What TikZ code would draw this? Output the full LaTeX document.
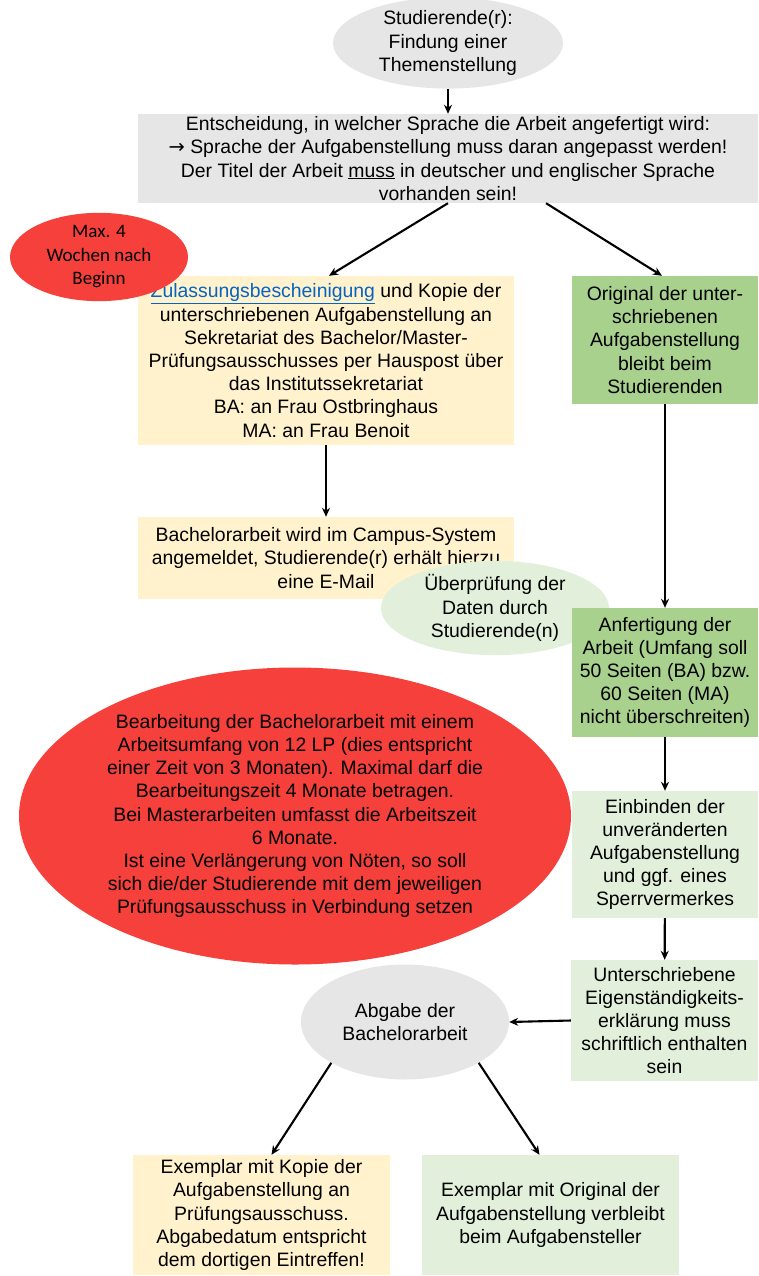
\documentclass[tikz,border=0pt]{standalone}
\usepackage{fontspec}
\setmainfont{Liberation Sans}
\newfontfamily\calib{Carlito}
\newfontfamily\dejavu{DejaVu Sans}
\usetikzlibrary{shapes.geometric,arrows.meta}
\definecolor{graybg}{HTML}{E7E6E6}
\definecolor{yellowbg}{HTML}{FFF2CC}
\definecolor{greenD}{HTML}{A9D18E}
\definecolor{greenL}{HTML}{E2EFDA}
\definecolor{redc}{HTML}{F5403B}
\definecolor{linkblue}{HTML}{0563C1}
\tikzset{
  txt/.style={align=center, inner sep=0pt, font=\fontsize{19.4}{23.2}\selectfont},
  rbox/.style={txt, rectangle},
  ell/.style={txt, ellipse},
  arr/.style={-{Stealth[length=9pt,width=8pt]}, line width=2.1pt, black},
}
\begin{document}
\begin{tikzpicture}[x=1pt,y=-1pt]
\useasboundingbox (0,0) rectangle (758,1276);
\node[ell, fill=graybg, minimum width=230, minimum height=78] (top) at (448,43) {Studierende(r):\\Findung einer\\Themenstellung};
\node[rbox, fill=graybg, minimum width=620, minimum height=89] (lang) at (448,158.5) {Entscheidung, in welcher Sprache die Arbeit angefertigt wird:\\{\dejavu →} Sprache der Aufgabenstellung muss daran angepasst werden!\\Der Titel der Arbeit \underline{muss} in deutscher und englischer Sprache\\vorhanden sein!};
\node[rbox, fill=yellowbg, minimum width=376, minimum height=169] (zul) at (326,360.5) {\textcolor{linkblue}{\underline{Zulassungsbescheinigung}} und Kopie der\\unterschriebenen Aufgabenstellung an\\Sekretariat des Bachelor/Master-\\Prüfungsausschusses per Hauspost über\\das Institutssekretariat\\BA: an Frau Ostbringhaus\\MA: an Frau Benoit};
\node[ell, fill=redc, minimum width=178, minimum height=66, font=\calib\fontsize{19}{23.5}\selectfont] (max) at (99,257) {Max. 4\\Wochen nach\\Beginn};
\node[rbox, fill=greenD, minimum width=186, minimum height=128] (orig) at (665,340) {Original der unter-\\schriebenen\\Aufgabenstellung\\bleibt beim\\Studierenden};
\node[rbox, fill=yellowbg, minimum width=376, minimum height=82] (camp) at (326,558) {Bachelorarbeit wird im Campus-System\\angemeldet, Studierende(r) erhält hierzu\\eine E-Mail};
\node[ell, fill=greenL, minimum width=228, minimum height=80] (ueb) at (495,608) {Überprüfung der\\Daten durch\\Studierende(n)};
\node[rbox, fill=greenD, minimum width=186, minimum height=129] (anf) at (665,672.5) {Anfertigung der\\Arbeit (Umfang soll\\50 Seiten (BA) bzw.\\60 Seiten (MA)\\nicht überschreiten)};
\node[ell, fill=redc, minimum width=552, minimum height=297] (big) at (295,816) {Bearbeitung der Bachelorarbeit mit einem\\Arbeitsumfang von 12 LP (dies entspricht\\einer Zeit von 3 Monaten). Maximal darf die\\Bearbeitungszeit 4 Monate betragen.\\Bei Masterarbeiten umfasst die Arbeitszeit\\6 Monate.\\Ist eine Verlängerung von Nöten, so soll\\sich die/der Studierende mit dem jeweiligen\\Prüfungsausschuss in Verbindung setzen};
\node[rbox, fill=greenL, minimum width=186, minimum height=127] (einb) at (665,854.5) {Einbinden der\\unveränderten\\Aufgabenstellung\\und ggf. eines\\Sperrvermerkes};
\node[rbox, fill=greenL, minimum width=187, minimum height=121] (unt) at (664.5,1020.5) {Unterschriebene\\Eigenständigkeits-\\erklärung muss\\schriftlich enthalten\\sein};
\node[ell, fill=graybg, minimum width=208, minimum height=115] (abg) at (405,1022) {Abgabe der\\Bachelorarbeit};
\node[rbox, fill=yellowbg, minimum width=257, minimum height=120] (exk) at (261.5,1215) {Exemplar mit Kopie der\\Aufgabenstellung an\\Prüfungsausschuss.\\Abgabedatum entspricht\\dem dortigen Eintreffen!};
\node[rbox, fill=greenL, minimum width=257, minimum height=120] (exo) at (550.5,1215) {Exemplar mit Original der\\Aufgabenstellung verbleibt\\beim Aufgabensteller};
\draw[arr] (top) -- (lang);
\draw[arr] (lang.south) -- ([xshift=3]zul.north);
\draw[arr] ([xshift=98]lang.south) -- ([xshift=-3]orig.north);
\draw[arr] (zul) -- (camp);
\draw[arr] (orig) -- (anf);
\draw[arr] (anf) -- (einb);
\draw[arr] (einb) -- (unt);
\draw[arr] (unt.west) -- (abg.east);
\draw[arr] (abg.south west) -- ([xshift=10]exk.north);
\draw[arr] (abg.south east) -- ([xshift=-11]exo.north);
\end{tikzpicture}
\end{document}
